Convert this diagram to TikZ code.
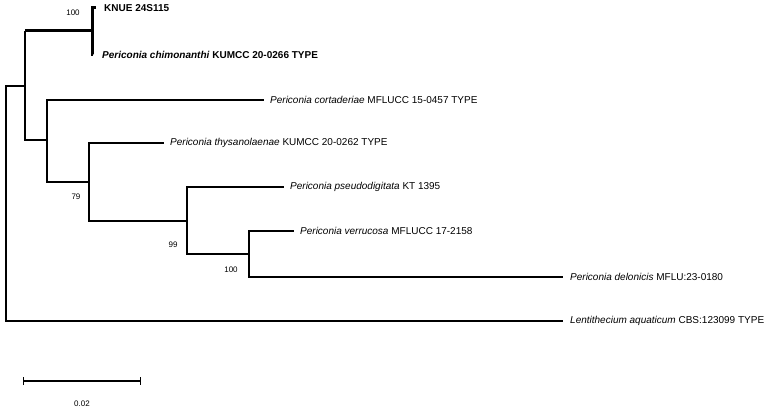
\documentclass[tikz,border=0pt]{standalone}
\usepackage{fontspec}
\setmainfont{Liberation Sans}
\usetikzlibrary{arrows.meta,positioning}

\begin{document}
\begin{tikzpicture}[x=1pt, y=-1pt,
    taxon/.style={inner sep=0pt, font=\fontsize{10}{12}\selectfont},
    newtaxon/.style={taxon, font=\fontsize{10}{12}\selectfont\bfseries},
    support/.style={inner sep=0pt, font=\fontsize{8}{10}\selectfont},
    branch/.style={line width=1.2pt},
    thickbranch/.style={line width=3pt}
  ]
    \useasboundingbox (0,0) rectangle (770,412);
    % internal nodes
    \coordinate (root) at (6,203);
    \coordinate (nA) at (25,86);
    \coordinate (nK) at (92,31);
    \coordinate (nB) at (47,140);
    \coordinate (nC) at (89,182);
    \coordinate (nD) at (187,221);
    \coordinate (nE) at (249,254);
    % tips
    \coordinate (tKNUE) at (96,8);
    \coordinate (tChim) at (93,55);
    \coordinate (tCort) at (264,100);
    \coordinate (tThys) at (164,143);
    \coordinate (tPseu) at (284,187);
    \coordinate (tVerr) at (294,231);
    \coordinate (tDelo) at (563,277);
    \coordinate (tLent) at (563,321);
    % taxon labels
    \node[newtaxon, right=8pt of tKNUE] (lKNUE) {KNUE 24S115};
    \node[newtaxon, right=9pt of tChim] (lChim) {\textit{Periconia chimonanthi} KUMCC 20-0266 TYPE};
    \node[taxon, right=6pt of tCort] (lCort) {\textit{Periconia cortaderiae} MFLUCC 15-0457 TYPE};
    \node[taxon, right=6pt of tThys] (lThys) {\textit{Periconia thysanolaenae} KUMCC 20-0262 TYPE};
    \node[taxon, right=6pt of tPseu] (lPseu) {\textit{Periconia pseudodigitata} KT 1395};
    \node[taxon, right=6pt of tVerr] (lVerr) {\textit{Periconia verrucosa} MFLUCC 17-2158};
    \node[taxon, right=7pt of tDelo] (lDelo) {\textit{Periconia delonicis} MFLU:23-0180};
    \node[taxon, right=7pt of tLent] (lLent) {\textit{Lentithecium aquaticum} CBS:123099 TYPE};
    % branches
    \draw[branch] (root) |- (nA);
    \draw[branch] (root) |- (tLent);
    \draw[branch] (nA) |- (nB);
    \draw[branch] (nA) -- (nA |- nK);
    \draw[thickbranch] (nK -| nA) -- (nK);
    \draw[thickbranch] (nK) |- (tKNUE);
    \draw[thickbranch] (nK) |- (tChim);
    \draw[branch] (nB) |- (tCort);
    \draw[branch] (nB) |- (nC);
    \draw[branch] (nC) |- (tThys);
    \draw[branch] (nC) |- (nD);
    \draw[branch] (nD) |- (tPseu);
    \draw[branch] (nD) |- (nE);
    \draw[branch] (nE) |- (tVerr);
    \draw[branch] (nE) |- (tDelo);
    % bootstrap support
    \node[support] (bK) at (73,13) {100};
    \node[support] (bC) at (76,197) {79};
    \node[support] (bD) at (173,245) {99};
    \node[support] (bE) at (231,270) {100};
    % scale bar
    \coordinate (sL) at (23,381);
    \coordinate (sR) at (141,381);
    \draw[branch, {Bar[width=8pt]}-{Bar[width=8pt]}] (sL) -- (sR);
    \node[support] (sLab) at (82,404) {0.02};
\end{tikzpicture}
\end{document}
